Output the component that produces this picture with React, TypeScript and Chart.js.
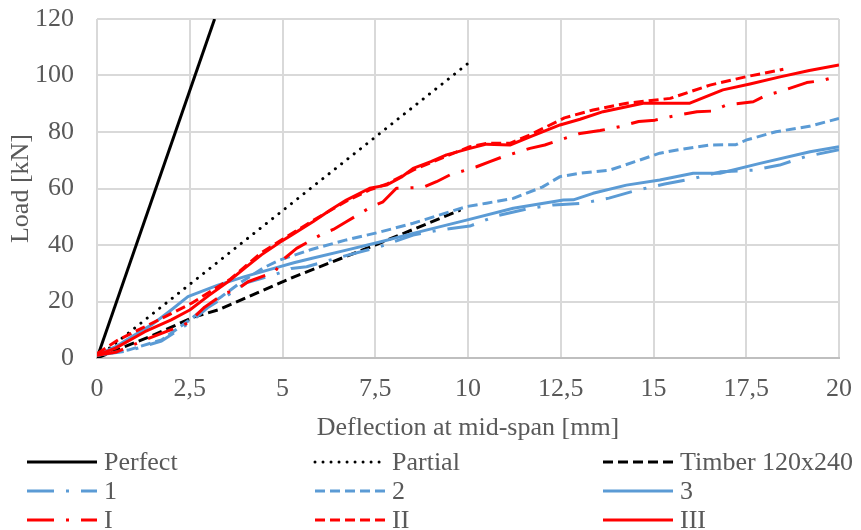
import { useEffect, useRef } from 'react';
import { Chart, registerables } from 'chart.js';

Chart.register(...registerables);

// ---- data (deflection [mm] / load [kN]) ----
const PERFECT_X = [0, 3.17];
const PERFECT_Y = [0, 120];

const PARTIAL_X = [0, 10.07];
const PARTIAL_Y = [0, 105];

const TIMBER_X = [0, 0.75, 1.5, 2.63, 3.26, 5.33, 7.5, 9.8];
const TIMBER_Y = [0, 4, 8, 14.6, 17, 28.8, 40, 52.4];

const S1_X = [0, 0.84, 1.74, 2.5, 3, 3.5, 4, 4.79, 5.24, 5.65, 6.5, 7.62, 8.52, 9.24, 10.05, 10.76, 11.67, 12.3, 13.1, 13.8, 14.5, 15.3, 16.07, 16.8, 17.7, 18.4, 19.1, 20];
const S1_Y = [1, 2.5, 6, 12.5, 18, 22, 26.5, 29.5, 31.7, 32.3, 35.5, 39.4, 43.5, 45.3, 46.7, 50.3, 53, 54.2, 54.8, 56.6, 59.2, 61.6, 63.5, 65.9, 66.5, 68.3, 71.3, 73.7];

const S2_X = [0, 0.84, 1.74, 2.5, 2.9, 3.35, 3.9, 4.5, 4.93, 5.8, 6.72, 7.6, 8.52, 9.96, 10.5, 11.22, 12, 12.48, 13.02, 13.82, 14.5, 15.17, 15.8, 16.5, 17.22, 17.51, 18.3, 19.2, 20];
const S2_Y = [1, 2.8, 6.4, 13.5, 17.6, 21.7, 27, 32, 34.7, 38.5, 41.8, 44.5, 47.7, 53.6, 54.8, 56.5, 60.5, 64.2, 65.4, 66.5, 69.5, 72.5, 74, 75.4, 75.5, 77.2, 80.1, 82, 84.8];

const S3_X = [0, 0.5, 1, 1.5, 2, 2.45, 3.26, 3.98, 4.79, 5.33, 5.8, 6.72, 7.6, 8.52, 9.96, 11.22, 12.57, 12.84, 13.37, 14.27, 15.17, 16.07, 16.79, 17.87, 19.22, 20];
const S3_Y = [1, 4, 8, 12, 17, 21.7, 25.8, 28.8, 31.8, 33.8, 35.3, 38.2, 41, 44.1, 48.8, 53, 55.9, 56, 58.3, 61.2, 63, 65.4, 65.4, 68.9, 73, 74.8];

const SI_X = [0, 0.5, 1.29, 2.45, 2.9, 3.44, 3.76, 4.07, 4.79, 5.06, 5.38, 6.1, 6.37, 6.73, 7.4, 7.71, 8.07, 8.79, 9.15, 9.51, 10.23, 10.59, 10.95, 11.67, 12.07, 12.48, 13.02, 13.56, 14.09, 14.6, 15.04, 15.45, 16.17, 16.57, 16.97, 17.69, 18.05, 18.41, 19.13, 19.54, 20];
const SI_Y = [1, 2, 6.4, 12.4, 18, 22.9, 24.1, 27, 30.5, 35.3, 38.8, 44.1, 45.5, 48.3, 53.6, 55.3, 60.1, 60.4, 62.4, 64.8, 67.7, 69.5, 71.3, 74.2, 75.4, 77.2, 79.5, 80.5, 81.9, 83.7, 84.2, 85.4, 87.2, 87.4, 89.6, 90.7, 93.1, 94.3, 97.5, 98.2, 99.8];

const SII_X = [0, 0.57, 1.2, 1.74, 2.55, 3.26, 3.6, 4.4, 5, 5.8, 6.72, 7.35, 7.8, 8.52, 9.42, 10.05, 10.5, 11.13, 11.67, 12.6, 13.37, 14.28, 15.45, 16.52, 17.51, 18.5];
const SII_Y = [1.5, 6.4, 10.5, 14, 19.4, 25.2, 28, 37, 42, 48.5, 55.5, 59.5, 61.5, 66.5, 71.5, 74.8, 76, 76, 79, 85, 87.8, 90.2, 91.9, 96.6, 99.6, 102.2];

const SIII_X = [0, 0.5, 1.29, 2, 2.5, 3, 3.53, 4, 4.43, 4.93, 5.24, 5.82, 6.3, 6.72, 7.35, 7.8, 8.2, 8.52, 9, 9.42, 10.05, 10.5, 11.13, 11.67, 12.48, 13.02, 13.64, 14.72, 15.98, 16.87, 17.6, 18.41, 19.2, 20];
const SIII_Y = [1, 3.5, 9.3, 13.5, 17, 22, 27, 32, 36.5, 41, 43.5, 48.2, 52.5, 55.9, 60.1, 61.2, 64, 67.1, 69.5, 71.9, 74.2, 75.7, 75.4, 78.3, 82.5, 84.5, 87.2, 90.2, 90.2, 94.9, 97, 99.5, 101.8, 103.7];

const SERIES_LABELS = ['Perfect', 'Partial', 'Timber 120x240', '1', '2', '3', 'I', 'II', 'III'];

const X_TICKS = [0, 2.5, 5, 7.5, 10, 12.5, 15, 17.5, 20];
const X_TICK_LABELS = ['0', '2,5', '5', '7,5', '10', '12,5', '15', '17,5', '20'];
const Y_TICKS = [0, 20, 40, 60, 80, 100, 120];
const Y_TICK_LABELS = ['0', '20', '40', '60', '80', '100', '120'];

const X_TITLE = 'Deflection at mid-span [mm]';
const Y_TITLE = 'Load [kN]';

// ---- styles ----
const BLACK = '#000000';
const BLUE = '#5b9bd5';
const RED = '#ff0000';
const TEXT = '#595959';
const GRID = '#d9d9d9';
const FONT_FAMILY = '"Liberation Serif", "Times New Roman", serif';

const DASHED = [10, 5];
const DOTTED = [0.01, 8];
const DASH_DOT = [27, 12, 3, 12];

const zip = (xs: number[], ys: number[]) => xs.map((x, i) => ({ x, y: ys[i] }));

const LEGEND_COL_X = [27, 315, 603];
const LEGEND_ROW_Y = [462, 491, 520];

// target plot box
const AREA = { left: 97, right: 839, top: 19, bottom: 358 };

const legendPlugin = {
  id: 'gridLegend',
  afterDraw(chart: any) {
    const ctx = chart.ctx as CanvasRenderingContext2D;
    const ds = chart.data.datasets;
    ctx.save();
    ds.forEach((d: any, i: number) => {
      const col = i % 3;
      const row = Math.floor(i / 3);
      const x0 = LEGEND_COL_X[col];
      const y = LEGEND_ROW_Y[row];
      ctx.beginPath();
      ctx.setLineDash(d.borderDash || []);
      ctx.lineCap = d.borderCapStyle || 'butt';
      ctx.strokeStyle = d.borderColor;
      ctx.lineWidth = d.borderWidth;
      ctx.moveTo(x0, y);
      ctx.lineTo(x0 + 70, y);
      ctx.stroke();
      ctx.setLineDash([]);
      ctx.fillStyle = TEXT;
      ctx.font = `26px ${FONT_FAMILY}`;
      ctx.textBaseline = 'middle';
      ctx.textAlign = 'left';
      ctx.fillText(d.label, x0 + 77, y + 1);
    });
    ctx.restore();
  },
};

function mk(label: string, xs: number[], ys: number[], color: string, dash: number[], cap: string, order: number) {
  return {
    label,
    data: zip(xs, ys),
    borderColor: color,
    backgroundColor: color,
    borderWidth: 3,
    borderDash: dash,
    borderCapStyle: cap,
    borderJoinStyle: 'round',
    showLine: true,
    pointRadius: 0,
    pointHoverRadius: 0,
    tension: 0,
    fill: false,
    order,
  };
}

export default function App() {
  const ref = useRef<HTMLCanvasElement | null>(null);

  useEffect(() => {
    if (!ref.current) return;
    const datasets = [
      mk(SERIES_LABELS[0], PERFECT_X, PERFECT_Y, BLACK, [], 'butt', 9),
      mk(SERIES_LABELS[1], PARTIAL_X, PARTIAL_Y, BLACK, DOTTED, 'round', 8),
      mk(SERIES_LABELS[2], TIMBER_X, TIMBER_Y, BLACK, DASHED, 'butt', 7),
      mk(SERIES_LABELS[3], S1_X, S1_Y, BLUE, DASH_DOT, 'butt', 6),
      mk(SERIES_LABELS[4], S2_X, S2_Y, BLUE, DASHED, 'butt', 5),
      mk(SERIES_LABELS[5], S3_X, S3_Y, BLUE, [], 'butt', 4),
      mk(SERIES_LABELS[6], SI_X, SI_Y, RED, DASH_DOT, 'butt', 3),
      mk(SERIES_LABELS[7], SII_X, SII_Y, RED, DASHED, 'butt', 2),
      mk(SERIES_LABELS[8], SIII_X, SIII_Y, RED, [], 'butt', 1),
    ];
    const font = { family: FONT_FAMILY, size: 26, lineHeight: 1.2 };
    const chart = new Chart(ref.current, {
      type: 'scatter',
      data: { datasets } as any,
      plugins: [legendPlugin],
      options: {
        animation: false,
        responsive: false,
        events: [],
        layout: { autoPadding: false, padding: { left: 0, right: 861 - AREA.right, top: AREA.top, bottom: 530 - AREA.bottom - 86 } },
        plugins: { legend: { display: false }, tooltip: { enabled: false }, title: { display: false } },
        scales: {
          x: {
            type: 'linear',
            min: 0,
            max: 20,
            afterBuildTicks: (s: any) => { s.ticks = X_TICKS.map((v) => ({ value: v })); },
            afterFit: (s: any) => { s.height = 86; s.paddingLeft = 0; s.paddingRight = 0; },
            ticks: {
              color: TEXT,
              font,
              padding: 16,
              maxRotation: 0,
              autoSkip: false,
              callback: (_v: any, i: number) => X_TICK_LABELS[i],
            },
            grid: { color: GRID, lineWidth: 2, drawTicks: false },
            border: { display: true, color: '#bfbfbf', width: 2 },
            title: { display: true, text: X_TITLE, color: TEXT, font, padding: { top: 0, bottom: 0 } },
          },
          y: {
            type: 'linear',
            min: 0,
            max: 120,
            afterBuildTicks: (s: any) => { s.ticks = Y_TICKS.map((v) => ({ value: v })); },
            afterFit: (s: any) => { s.width = AREA.left; s.paddingTop = 0; s.paddingBottom = 0; },
            ticks: {
              color: TEXT,
              font,
              padding: 23,
              autoSkip: false,
              callback: (_v: any, i: number) => Y_TICK_LABELS[i],
            },
            grid: { color: GRID, lineWidth: 2, drawTicks: false },
            border: { display: false },
            title: { display: true, text: Y_TITLE, color: TEXT, font, padding: { top: 6, bottom: 0 } },
          },
        },
      } as any,
    });
    return () => chart.destroy();
  }, []);

  return (
    <div style={{ position: 'absolute', left: 0, top: 0, width: 861, height: 530, background: '#fff' }}>
      <canvas ref={ref} width={861} height={530} />
    </div>
  );
}
